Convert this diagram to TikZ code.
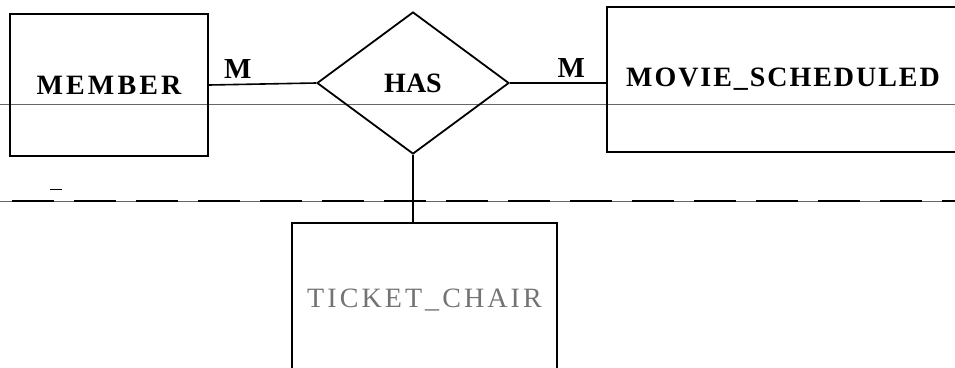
\documentclass[tikz,border=0pt]{standalone}
\usepackage{fontspec}
\setmainfont{Liberation Serif}
\newfontfamily\erfont[LetterSpace=7]{Liberation Serif}
\newfontfamily\erwidefont[LetterSpace=11]{Liberation Serif}
\usetikzlibrary{shapes.geometric}

\begin{document}
\begin{tikzpicture}[x=1pt,y=-1pt,
	entity/.style={draw, line width=2pt, rectangle, inner sep=0pt, font=\erfont\bfseries\fontsize{28}{32}\selectfont},
	relation/.style={draw, line width=1.8pt, diamond, inner sep=0pt, minimum width=192pt, minimum height=142pt, font=\bfseries\fontsize{28}{32}\selectfont},
	card/.style={font=\bfseries\fontsize{29}{33}\selectfont, above=5pt, inner sep=0pt}]
	\clip (0,0) rectangle (955,367);
	\fill[white] (0,0) rectangle (955,367);
	% scan lines
	\draw [gray!80!black, line width=0.9pt] (0,104) -- (955,104);
	\draw [gray!80!black, line width=0.6pt] (0,201) -- (955,201);
	\draw [line width=1.4pt, dash pattern=on 42pt off 20pt] (12,201) -- (955,201);
	\draw [line width=1pt] (50,189) -- (62,189);
	% entities and relation
	\node [entity, minimum width=198pt, minimum height=142pt, font=\erwidefont\bfseries\fontsize{28}{32}\selectfont] (member) at (109,85) {MEMBER};
	\node [relation] (has) at (413,83) {HAS};
	\node [entity, minimum width=352pt, minimum height=145pt] (movie) at (783,79.5) {MOVIE\_SCHEDULED};
	\node [entity, minimum width=265pt, minimum height=154pt, text=gray!90!black, font=\erwidefont\fontsize{28}{32}\selectfont] (ticket) at (424.5,300) {TICKET\_CHAIR};
	% connectors
	\draw [line width=1.6pt] (member.east) -- node [card, pos=0.27] {M} (has.west);
	\draw [line width=1.6pt] (has.east) -- node [card, pos=0.64] {M} (has.east -| movie.west);
	\draw [line width=1.6pt] (has.south) -- (has.south |- ticket.north);
\end{tikzpicture}
\end{document}
